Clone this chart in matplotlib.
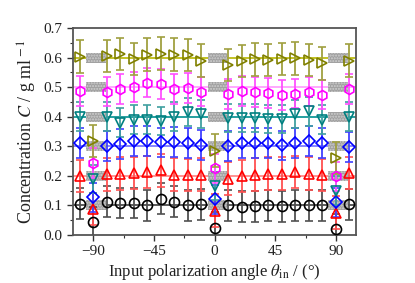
import matplotlib
matplotlib.use("Agg")
import matplotlib.pyplot as plt
from matplotlib.patches import Rectangle
from matplotlib.ticker import MultipleLocator

# ---- data ----
angles = [-100, -90, -80, -70, -60, -50, -40, -30, -20, -10, 0,
          10, 20, 30, 40, 50, 60, 70, 80, 90, 100]

c_010 = [0.105, 0.042, 0.112, 0.108, 0.108, 0.100, 0.123, 0.112, 0.100, 0.104, 0.025,
         0.100, 0.095, 0.097, 0.100, 0.097, 0.100, 0.100, 0.100, 0.020, 0.103]
c_020 = [0.200, 0.088, 0.205, 0.207, 0.210, 0.213, 0.218, 0.204, 0.203, 0.204, 0.082,
         0.190, 0.200, 0.204, 0.207, 0.207, 0.212, 0.207, 0.203, 0.075, 0.210]
c_030 = [0.310, 0.127, 0.300, 0.307, 0.317, 0.318, 0.313, 0.314, 0.310, 0.304, 0.120,
         0.300, 0.310, 0.310, 0.310, 0.303, 0.310, 0.317, 0.310, 0.110, 0.297]
c_040 = [0.400, 0.190, 0.400, 0.380, 0.390, 0.390, 0.385, 0.400, 0.415, 0.410, 0.165,
         0.395, 0.395, 0.395, 0.393, 0.393, 0.408, 0.418, 0.390, 0.150, 0.400]
c_050 = [0.487, 0.243, 0.485, 0.493, 0.500, 0.515, 0.510, 0.493, 0.497, 0.485, 0.225,
         0.477, 0.487, 0.483, 0.480, 0.473, 0.478, 0.485, 0.475, 0.198, 0.493]
c_060 = [0.603, 0.318, 0.605, 0.612, 0.595, 0.610, 0.613, 0.610, 0.608, 0.590, 0.285,
         0.575, 0.588, 0.594, 0.592, 0.595, 0.597, 0.592, 0.580, 0.260, 0.590]

true_conc = [0.1, 0.2, 0.3, 0.4, 0.5, 0.6]
errors = [0.052, 0.055, 0.050, 0.048, 0.050, 0.055]
band_angles = [-88, 2, 91.5]

# ---- style ----
plt.rcParams["font.family"] = ["Liberation Serif", "DejaVu Serif"]
plt.rcParams["mathtext.fontset"] = "stix"

series = [
    (c_010, "o", "#000000", "#404040", "#505050"),
    (c_020, "^", "#ff0000", "#ff8080", "#ff5050"),
    (c_030, "D", "#0000ff", "#7070ff", "#4040ff"),
    (c_040, "v", "#008080", "#009090", "#40a0a0"),
    (c_050, "h", "#ff00ff", "#ff99ff", "#ff50ff"),
    (c_060, ">", "#808000", "#b8b800", "#a0a040"),
]

fig = plt.figure(figsize=(4.15, 2.83), dpi=100)
ax = fig.add_axes([0.176, 0.170, 0.682, 0.731])

for (vals, mk, col, lcol, ecol), c0, err in zip(series, true_conc, errors):
    ax.axhline(c0, color=lcol, lw=1.2, zorder=1)
    for ba in band_angles:
        ax.add_patch(Rectangle((ba - 7.2, c0 - 0.017), 14.4, 0.034,
                               facecolor="#a0a0a0", edgecolor="#d0d0d0",
                               hatch="......", lw=0, zorder=2))
    ax.errorbar(angles, vals, yerr=err, fmt="none", ecolor=ecol,
                elinewidth=1.3, capsize=2.8, capthick=1.2, zorder=3)
    ms = 5.8 if mk == "D" else 7.2
    ax.plot(angles, vals, linestyle="none", marker=mk, ms=ms,
            mfc="none", mec=col, mew=1.2, zorder=4)

ax.set_xlim(-105, 105)
ax.set_ylim(0, 0.7)
ax.xaxis.set_major_locator(MultipleLocator(45))
ax.xaxis.set_minor_locator(MultipleLocator(22.5))
ax.yaxis.set_major_locator(MultipleLocator(0.1))
ax.yaxis.set_minor_locator(MultipleLocator(0.05))
ax.yaxis.set_major_formatter(plt.FormatStrFormatter("%.1f"))
ax.tick_params(which="major", direction="out", length=4, width=1,
               labelsize=11, colors="#333333", labelcolor="#222222")
ax.tick_params(which="minor", direction="out", length=2.5, width=0.8,
               colors="#333333")
for sp in ax.spines.values():
    sp.set_color("#555555")
    sp.set_linewidth(1.3)

ax.set_ylabel("Concentration $C$ / g ml$^{\\rm -1}$", fontsize=13,
              color="#222222", labelpad=3)
ax.set_xlabel("Input polarization angle $\\theta_{\\rm in}$ / (°)",
              fontsize=12, color="#222222", labelpad=3)

fig.savefig("out.png", dpi=100)
